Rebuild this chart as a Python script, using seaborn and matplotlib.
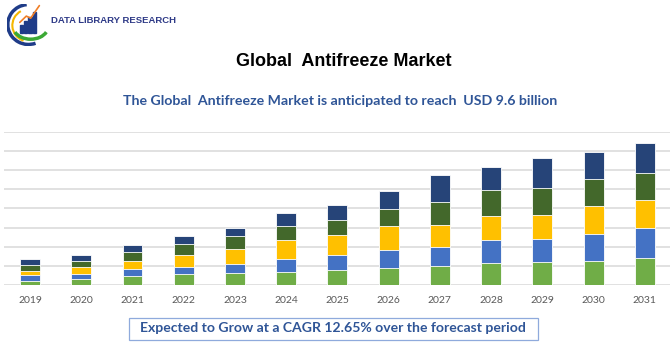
import numpy as np
import pandas as pd
import matplotlib
matplotlib.use("Agg")
import matplotlib.pyplot as plt
import seaborn as sns
from matplotlib.patches import Arc, Rectangle

# values (grid units, y axis has no labels)
years = ["2019", "2020", "2021", "2022", "2023", "2024", "2025",
         "2026", "2027", "2028", "2029", "2030", "2031"]
seg_green = [0.23, 0.30, 0.50, 0.56, 0.64, 0.68, 0.80, 0.89, 1.01, 1.16, 1.22, 1.28, 1.42]
seg_blue = [0.31, 0.26, 0.35, 0.41, 0.45, 0.71, 0.78, 0.97, 0.99, 1.22, 1.21, 1.41, 1.58]
seg_yellow = [0.21, 0.41, 0.42, 0.61, 0.82, 0.97, 1.02, 1.20, 1.13, 1.21, 1.25, 1.42, 1.44]
seg_dkgreen = [0.31, 0.30, 0.48, 0.56, 0.66, 0.73, 0.82, 0.92, 1.18, 1.39, 1.39, 1.43, 1.39]
seg_navy = [0.29, 0.29, 0.35, 0.43, 0.43, 0.66, 0.76, 0.93, 1.42, 1.18, 1.56, 1.42, 1.60]

segments = [seg_green, seg_blue, seg_yellow, seg_dkgreen, seg_navy]
colors = ["#70AD47", "#4472C4", "#FFC000", "#43682B", "#264478"]

title = "Global  Antifreeze Market"
subtitle = "The Global  Antifreeze Market is anticipated to reach  USD 9.6 billion"
cagr_text = "Expected to Grow at a CAGR 12.65% over the forecast period"

sns.set_style("white")
plt.rcParams["font.family"] = ["Lato", "DejaVu Sans"]

fig = plt.figure(figsize=(6.7, 3.5), dpi=100)
ax = fig.add_axes([0.0066, 0.185, 0.994, 0.439])

# stacked bars: draw cumulative totals from tallest to shortest
cum = np.cumsum(np.array(segments), axis=0)
df = pd.DataFrame({"year": years})
for i in range(len(segments) - 1, -1, -1):
    df["val"] = cum[i]
    sns.barplot(data=df, x="year", y="val", color=colors[i], width=0.39,
                edgecolor="white", linewidth=0.6, saturation=1, ax=ax, zorder=3)

ax.set_ylim(0, 8)
ax.set_xlim(-0.5, len(years) - 0.5)
ax.set_yticks(np.arange(0, 9, 1))
ax.yaxis.grid(True, color="#D9D9D9", linewidth=1.1, zorder=0)
ax.set_axisbelow(True)
ax.tick_params(axis="y", left=False, labelleft=False)
ax.tick_params(axis="x", bottom=False, labelsize=7.5, labelcolor="#595959", pad=4)
ax.set_xlabel("")
ax.set_ylabel("")
sns.despine(ax=ax, left=True, bottom=True)

# titles
fig.text(0.513, 0.823, title, ha="center", va="center", fontsize=13,
         fontweight="bold", color="black", family="Liberation Sans")
fig.text(0.508, 0.711, subtitle, ha="center", va="center", fontsize=10.2,
         fontweight="bold", color="#2F5597")

# CAGR box
fig.text(0.497, 0.063, cagr_text, ha="center", va="center", fontsize=10.1,
         fontweight="bold", color="#2F5597")
fig.patches.append(Rectangle((0.193, 0.029), 0.610, 0.063, transform=fig.transFigure,
                             fill=False, edgecolor="#8FAADC", linewidth=0.9))

# simple logo
lax = fig.add_axes([0.010, 0.87, 0.065, 0.12])
lax.set_xlim(0, 1)
lax.set_ylim(0, 1)
lax.axis("off")
lax.add_patch(Arc((0.5, 0.5), 0.95, 0.95, theta1=95, theta2=290, color="#1F3C88", lw=2.5))
lax.add_patch(Arc((0.52, 0.48), 0.78, 0.78, theta1=120, theta2=250, color="#F5B700", lw=1.5))
lax.add_patch(Arc((0.55, 0.45), 0.8, 0.6, theta1=200, theta2=340, color="#3BA935", lw=2.5))
for k, h in enumerate([0.18, 0.28, 0.38, 0.5]):
    lax.add_patch(Rectangle((0.3 + k * 0.1, 0.3), 0.07, h, color="#1F3C88"))
lax.plot([0.3, 0.45, 0.55, 0.75], [0.55, 0.7, 0.65, 0.95], color="#F07E26", lw=1.2)
fig.text(0.076, 0.942, "DATA LIBRARY RESEARCH", ha="left", va="center", fontsize=6.8,
         fontweight="bold", color="#2E3A87", family="Liberation Sans")

fig.savefig("out.png", dpi=100)
